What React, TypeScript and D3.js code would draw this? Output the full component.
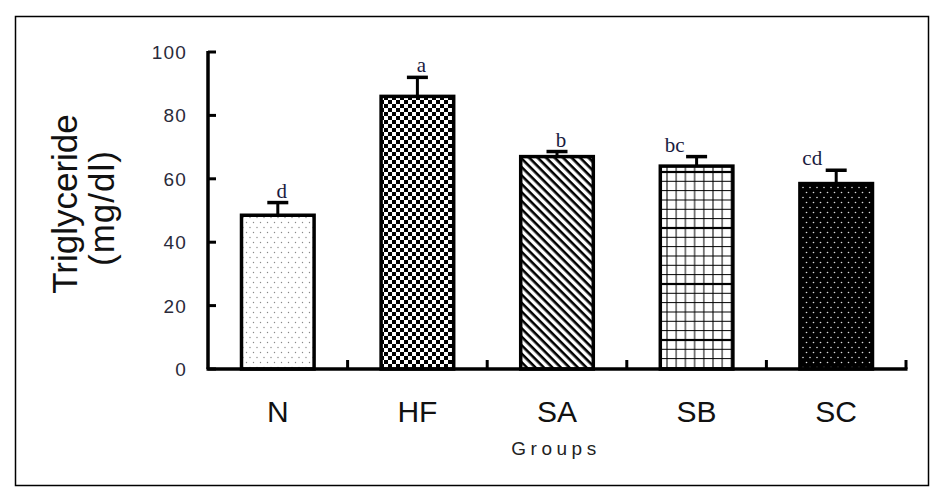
import React from "react";
import * as d3 from "d3";

const categories = ["N", "HF", "SA", "SB", "SC"];
const means = [48.5, 86, 67, 64, 58.5];
const errors = [4, 6, 1.6, 3, 4.2];
const letters = ["d", "a", "b", "bc", "cd"];
const patterns = ["dotsLight", "checker", "diag", "grid", "dotsDark"];
const yTicks = [0, 20, 40, 60, 80, 100];

const W = 937;
const H = 493;

export default function App() {
  const x = d3
    .scaleBand<string>()
    .domain(categories)
    .range([208, 906])
    .paddingInner(0.48)
    .paddingOuter(0.24);
  const y = d3.scaleLinear().domain([0, 100]).range([369, 52]);
  const step = x.step();
  const bw = x.bandwidth();
  const boundaries = categories.map((c) => (x(c) as number) + bw + (step - bw) / 2);

  return (
    <div style={{ position: "absolute", left: 0, top: 0 }}>
      <svg width={W} height={H} style={{ display: "block", background: "#fff" }}>
        <defs>
          <pattern id="dotsLight" patternUnits="userSpaceOnUse" width={7} height={10}>
            <rect width={7} height={10} fill="#fff" />
            <circle cx={1.5} cy={2.5} r={0.7} fill="#888" />
            <circle cx={5} cy={7.5} r={0.7} fill="#888" />
          </pattern>
          <pattern id="checker" patternUnits="userSpaceOnUse" width={8} height={8}>
            <rect width={8} height={8} fill="#fff" />
            <rect width={4} height={4} fill="#000" />
            <rect x={4} y={4} width={4} height={4} fill="#000" />
          </pattern>
          <pattern
            id="diag"
            patternUnits="userSpaceOnUse"
            width={6}
            height={6}
            patternTransform="rotate(45)"
          >
            <rect width={6} height={6} fill="#fff" />
            <rect y={0} width={6} height={2.6} fill="#000" />
          </pattern>
          <pattern id="grid" patternUnits="userSpaceOnUse" width={9.2} height={56}>
            <rect width={9.2} height={56} fill="#fff" />
            <line x1={4.6} y1={0} x2={4.6} y2={56} stroke="#000" strokeWidth={1} />
            {[0, 9.3, 18.6, 28, 37.3, 46.6].map((yy, i) => (
              <line
                key={i}
                x1={0}
                x2={9.2}
                y1={yy + 4}
                y2={yy + 4}
                stroke="#000"
                strokeWidth={i === 0 ? 2.2 : 1}
              />
            ))}
          </pattern>
          <pattern id="dotsDark" patternUnits="userSpaceOnUse" width={7} height={10}>
            <rect width={7} height={10} fill="#000" />
            <circle cx={1.5} cy={2.5} r={0.8} fill="#ddd" />
            <circle cx={5} cy={7.5} r={0.8} fill="#ddd" />
          </pattern>
        </defs>

        <rect x={15.5} y={16.5} width={913} height={469} fill="none" stroke="#000" strokeWidth={1.5} />

        {/* Y axis label */}
        <text
          transform="translate(77,204) rotate(-90)"
          textAnchor="middle"
          fontFamily="'Liberation Sans', Arial, sans-serif"
          fontSize={35}
          fill="#111"
        >
          Triglyceride
        </text>
        <text
          transform="translate(114,208) rotate(-90)"
          textAnchor="middle"
          fontFamily="'Liberation Sans', Arial, sans-serif"
          fontSize={35}
          letterSpacing={1}
          fill="#111"
        >
          (mg/dl)
        </text>

        {/* y ticks */}
        {yTicks.map((t) => (
          <g key={t}>
            <text
              x={187}
              y={y(t) + 7}
              textAnchor="end"
              fontFamily="'Liberation Sans', Arial, sans-serif"
              fontSize={19}
              letterSpacing={1.2}
              fill="#2a2a3a"
            >
              {t}
            </text>
            <line x1={208} x2={216} y1={y(t)} y2={y(t)} stroke="#000" strokeWidth={3} />
          </g>
        ))}

        {/* bars */}
        {categories.map((c, i) => {
          const x0 = x(c) as number;
          const cx = x0 + bw / 2;
          const top = y(means[i]);
          const cap = y(means[i] + errors[i]);
          const two = letters[i].length > 1;
          return (
            <g key={c}>
              <line x1={cx} x2={cx} y1={top} y2={cap} stroke="#000" strokeWidth={3} />
              <line x1={cx - 10.5} x2={cx + 10.5} y1={cap} y2={cap} stroke="#000" strokeWidth={3.5} />
              <rect
                x={x0}
                y={top}
                width={bw}
                height={y(0) - top}
                fill={`url(#${patterns[i]})`}
                stroke="#000"
                strokeWidth={3.5}
              />
              <text
                x={two ? cx - 6 - i * 2 : cx + 4}
                y={cap - 5}
                textAnchor={two ? "end" : "middle"}
                fontFamily="'Liberation Serif', 'Times New Roman', serif"
                fontSize={21}
                fill="#1a1a40"
              >
                {letters[i]}
              </text>
              <text
                x={cx}
                y={422}
                textAnchor="middle"
                fontFamily="'Liberation Sans', Arial, sans-serif"
                fontSize={30}
                fill="#111"
              >
                {c}
              </text>
            </g>
          );
        })}

        {/* x axis */}
        <line x1={206.5} x2={907.5} y1={369} y2={369} stroke="#000" strokeWidth={3.5} />
        <line x1={208} x2={208} y1={369} y2={51} stroke="#000" strokeWidth={3.5} />
        {boundaries.map((b, i) => (
          <line key={i} x1={b} x2={b} y1={369} y2={360} stroke="#000" strokeWidth={3} />
        ))}

        <text
          x={556}
          y={455}
          textAnchor="middle"
          fontFamily="'Liberation Sans', Arial, sans-serif"
          fontSize={19}
          letterSpacing={4.5}
          fill="#222"
        >
          Groups
        </text>
      </svg>
    </div>
  );
}
